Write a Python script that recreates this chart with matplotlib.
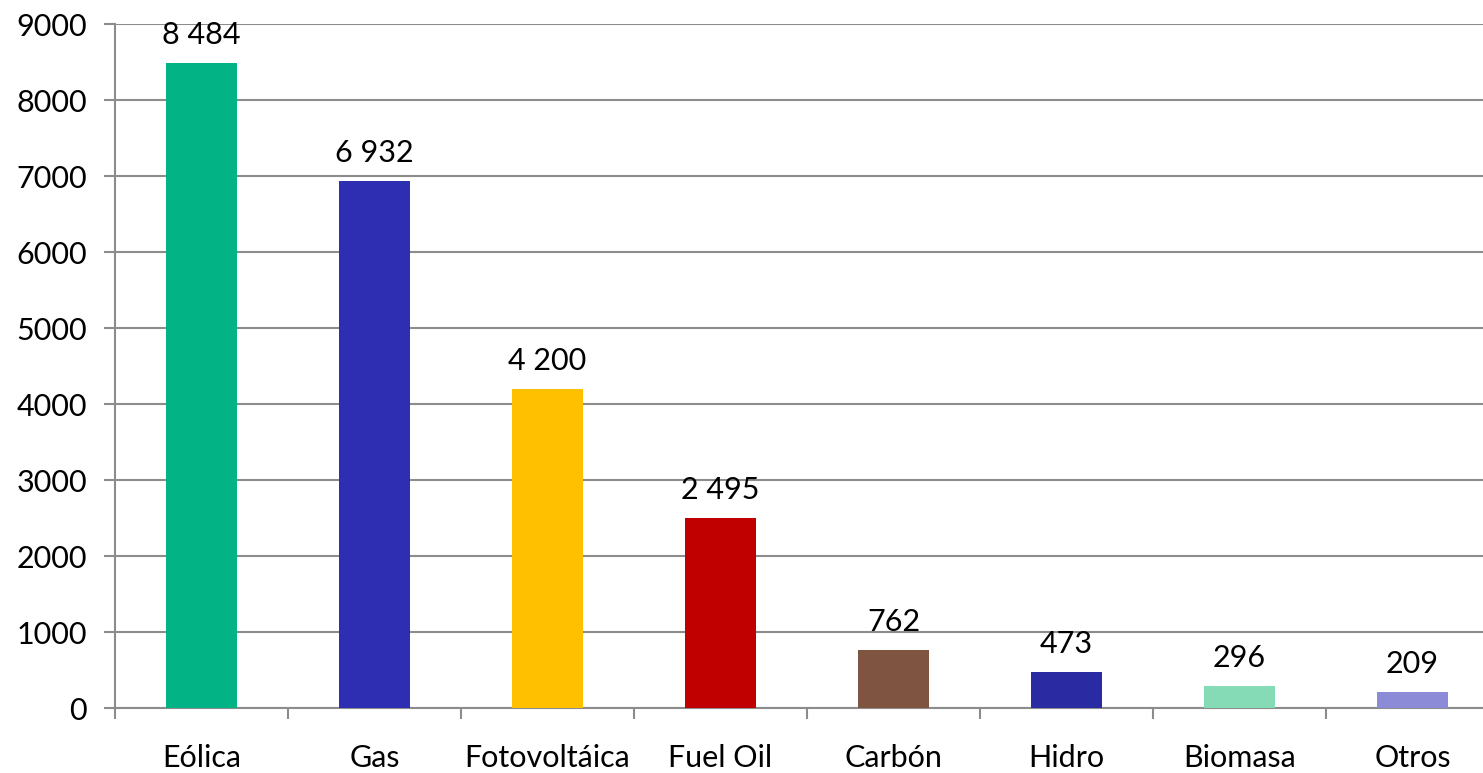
import matplotlib.pyplot as plt

# potencia instalada por tecnología (MW)
tecnologias = ['Eólica', 'Gas', 'Fotovoltáica', 'Fuel Oil', 'Carbón', 'Hidro', 'Biomasa', 'Otros']
potencia = [8484, 6932, 4200, 2495, 762, 473, 296, 209]
colores = ['#02B386', '#2E2EB2', '#FFC000', '#C00000', '#7F5440', '#2A2AA2', '#85DBB6', '#8B8BD8']
y_ticks = [0, 1000, 2000, 3000, 4000, 5000, 6000, 7000, 8000, 9000]

plt.rcParams['font.family'] = ['Lato', 'DejaVu Sans']

fig = plt.figure(figsize=(14.83, 7.73), dpi=100)
ax = fig.add_axes([115 / 1483, 1 - 708 / 773, 1384 / 1483, (708 - 24) / 773])

x = list(range(len(tecnologias)))
ax.bar(x, potencia, width=0.405, color=colores, zorder=3)

for xi, v in zip(x, potencia):
    etiqueta = f'{v:,}'.replace(',', ' ')
    ax.annotate(etiqueta, (xi, v), xytext=(0, 10), textcoords='offset points',
                ha='center', va='bottom', fontsize=22, color='black')

ax.set_xlim(-0.5, len(tecnologias) - 0.5)
ax.set_ylim(0, 9000)
ax.set_yticks(y_ticks)
ax.set_yticklabels([str(t) for t in y_ticks], fontsize=22)
ax.yaxis.grid(True, color='#8c8c8c', linewidth=1.5, zorder=0)

# marcas del eje x entre categorías, etiquetas centradas
ax.set_xticks([i - 0.5 for i in x])
ax.set_xticklabels([])
ax.set_xticks(x, minor=True)
ax.set_xticklabels(tecnologias, minor=True, fontsize=22)
ax.tick_params(axis='x', which='major', length=8, width=1.5, color='#8c8c8c')
ax.tick_params(axis='x', which='minor', length=0, pad=26)
ax.tick_params(axis='y', length=8, width=1.5, color='#8c8c8c', pad=12)

for lado in ['top', 'right']:
    ax.spines[lado].set_visible(False)
for lado in ['left', 'bottom']:
    ax.spines[lado].set_color('#8c8c8c')
    ax.spines[lado].set_linewidth(1.5)

fig.savefig('out.png', dpi=100)
